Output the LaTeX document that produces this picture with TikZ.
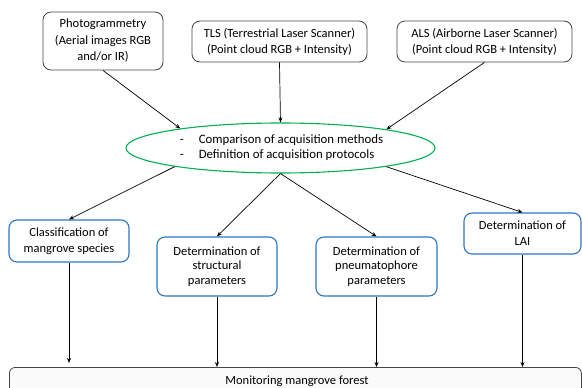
\documentclass[tikz,border=0pt]{standalone}
\usepackage{fontspec}
\setmainfont{Carlito}
\usetikzlibrary{shapes.geometric,arrows.meta}
\definecolor{boxgray}{RGB}{70,70,70}
\definecolor{boxblue}{RGB}{46,117,196}
\definecolor{ellgreen}{RGB}{0,176,80}
\begin{document}
\begin{tikzpicture}[x=1pt,y=-1pt,
  every node/.style={font=\fontsize{12.5}{15}\selectfont, align=center, inner sep=2pt},
  srcbox/.style={draw=boxgray, line width=0.8pt, rounded corners=8pt, fill=white},
  resbox/.style={draw=boxblue, line width=1.1pt, rounded corners=8pt, fill=white},
  conn/.style={draw=black, line width=0.7pt, -{Stealth[length=5pt,width=4pt]}}
]
\useasboundingbox (0,0) rectangle (582,388);
\clip (0,0) rectangle (582,388);

\node[srcbox, minimum width=120pt, minimum height=58pt, font=\fontsize{12.5}{16.5}\selectfont] (photo) at (103,41)
  {Photogrammetry\\(Aerial images RGB\\and/or IR)};
\node[srcbox, minimum width=175pt, minimum height=41pt, font=\fontsize{12.5}{16}\selectfont] (tls) at (279.5,41.5)
  {TLS (Terrestrial Laser Scanner)\\(Point cloud RGB + Intensity)};
\node[srcbox, minimum width=175pt, minimum height=41pt, font=\fontsize{12.5}{16}\selectfont] (als) at (484.5,41.5)
  {ALS (Airborne Laser Scanner)\\(Point cloud RGB + Intensity)};

\node[ellipse, draw=ellgreen, line width=1.1pt, minimum width=309pt, minimum height=50pt, inner sep=0pt,
  font=\fontsize{12.8}{15}\selectfont] (ell) at (280.5,148)
  {\hspace*{2pt}\begin{tabular}{@{}l@{\hspace{15pt}}l@{}}-&Comparison of acquisition methods\\-&Definition of acquisition protocols\end{tabular}};

\node[resbox, minimum width=120pt, minimum height=42pt, font=\fontsize{12.5}{16}\selectfont] (cls) at (69,241)
  {Classification of\\mangrove species};
\node[resbox, minimum width=120pt, minimum height=59pt, font=\fontsize{12.5}{14.5}\selectfont] (str) at (217,266.5)
  {Determination of\\structural\\parameters};
\node[resbox, minimum width=121pt, minimum height=59pt, font=\fontsize{12.5}{14.5}\selectfont] (pne) at (376.5,266.5)
  {Determination of\\pneumatophore\\parameters};
\node[resbox, minimum width=117pt, minimum height=41pt, font=\fontsize{12.5}{16}\selectfont] (lai) at (522.5,233.5)
  {Determination of\\LAI};

\node[draw=boxgray, fill=gray!4, line width=0.8pt, rounded corners=6pt, minimum width=572pt, minimum height=40pt, anchor=north west] (mon) at (9,367) {};
\node (montext) at (297,381) {Monitoring mangrove forest};

\draw[conn] (photo.south) -- (ell.169.5);
\draw[conn] (tls.south) -- (ell.north);
\draw[conn] (als.south) -- (ell.10);

\draw[conn] (ell.190) -- (cls.north);
\draw[conn] (ell.south) -- (str.north);
\draw[conn] (ell.south) -- (pne.north);
\draw[conn] (ell.350.5) -- (lai.north);

\coordinate (clsend) at ([yshift=4pt]cls.south |- mon.north);
\draw[conn] (cls.south) -- (clsend);
\draw[conn] (str.south) -- (str.south |- mon.north);
\draw[conn] (pne.south) -- (pne.south |- mon.north);
\draw[conn] (lai.south) -- (lai.south |- mon.north);
\end{tikzpicture}
\end{document}
